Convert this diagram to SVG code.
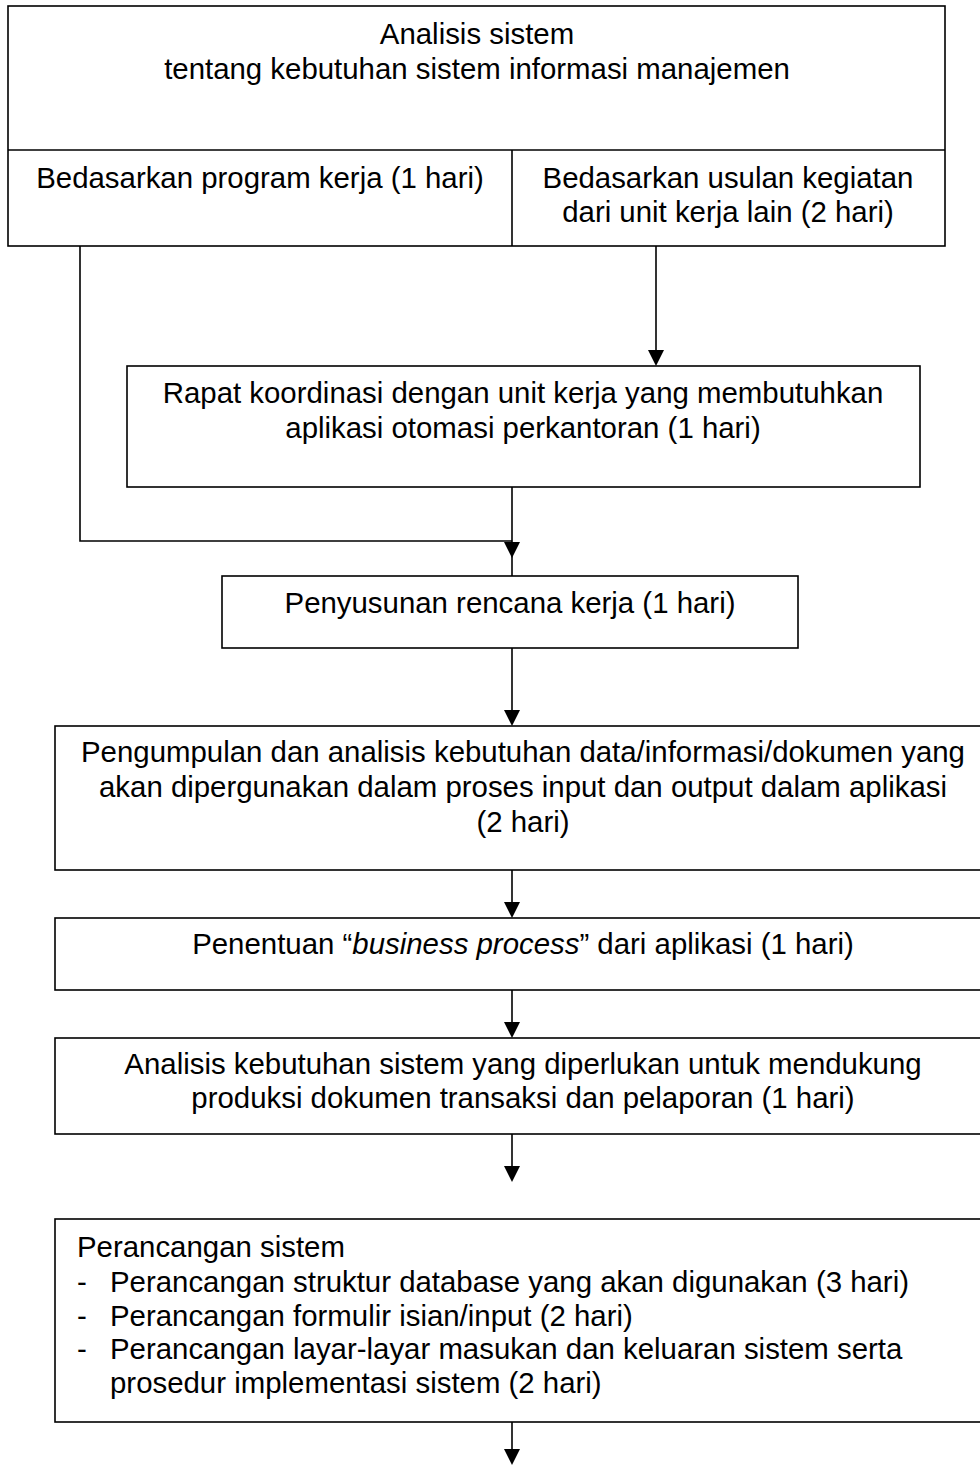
<svg xmlns="http://www.w3.org/2000/svg" width="980" height="1465" viewBox="0 0 980 1465">
<defs>
<style>
.box{fill:#fff;stroke:#000;stroke-width:1.6}
.ln{fill:none;stroke:#000;stroke-width:1.6}
.ah{fill:#000}
text{font-family:"Liberation Sans",Arial,sans-serif;font-size:29.4px;fill:#000}
.c{text-anchor:middle}
</style>
</defs>
<rect width="980" height="1465" fill="#fff"/>
<g id="node-analisis-sistem">
<rect class="box" x="8" y="6" width="937" height="240"/>
<line class="ln" x1="8" y1="150" x2="945" y2="150"/>
<line class="ln" x1="512" y1="150" x2="512" y2="246"/>
<text class="c" x="477" y="44">Analisis sistem</text>
<text class="c" x="477" y="79">tentang kebutuhan sistem informasi manajemen</text>
</g>
<g id="node-program-kerja">
<text class="c" x="260" y="188">Bedasarkan program kerja (1 hari)</text>
</g>
<g id="node-usulan-kegiatan">
<text class="c" x="728" y="188">Bedasarkan usulan kegiatan</text>
<text class="c" x="728" y="222">dari unit kerja lain (2 hari)</text>
</g>
<g id="node-rapat">
<rect class="box" x="127" y="366" width="793" height="121"/>
<text class="c" x="523" y="403">Rapat koordinasi dengan unit kerja yang membutuhkan</text>
<text class="c" x="523" y="438">aplikasi otomasi perkantoran (1 hari)</text>
</g>
<g id="node-penyusunan">
<rect class="box" x="222" y="576" width="576" height="72"/>
<text class="c" x="510" y="613">Penyusunan rencana kerja (1 hari)</text>
</g>
<g id="node-pengumpulan">
<rect class="box" x="55" y="726" width="940" height="144"/>
<text class="c" x="523" y="762">Pengumpulan dan analisis kebutuhan data/informasi/dokumen yang</text>
<text class="c" x="523" y="797">akan dipergunakan dalam proses input dan output dalam aplikasi</text>
<text class="c" x="523" y="832">(2 hari)</text>
</g>
<g id="node-penentuan">
<rect class="box" x="55" y="918" width="940" height="72"/>
<text class="c" x="523" y="954">Penentuan “<tspan font-style="italic">business process</tspan>” dari aplikasi (1 hari)</text>
</g>
<g id="node-analisis-kebutuhan">
<rect class="box" x="55" y="1038" width="940" height="96"/>
<text class="c" x="523" y="1074">Analisis kebutuhan sistem yang diperlukan untuk mendukung</text>
<text class="c" x="523" y="1108">produksi dokumen transaksi dan pelaporan (1 hari)</text>
</g>
<g id="node-perancangan">
<rect class="box" x="55" y="1219" width="940" height="203"/>
<text x="77" y="1257">Perancangan sistem</text>
<text x="77" y="1292">-</text>
<text x="110" y="1292">Perancangan struktur database yang akan digunakan (3 hari)</text>
<text x="77" y="1326">-</text>
<text x="110" y="1326">Perancangan formulir isian/input (2 hari)</text>
<text x="77" y="1359">-</text>
<text x="110" y="1359">Perancangan layar-layar masukan dan keluaran sistem serta</text>
<text x="110" y="1393">prosedur implementasi sistem (2 hari)</text>
</g>
<g id="connectors">
<path class="ln" d="M80,246 V541 H512"/>
<line class="ln" x1="656" y1="246" x2="656" y2="352"/>
<polygon class="ah" points="648,350 664,350 656,366"/>
<line class="ln" x1="512" y1="487" x2="512" y2="576"/>
<polygon class="ah" points="504,542 520,542 512,558"/>
<line class="ln" x1="512" y1="648" x2="512" y2="712"/>
<polygon class="ah" points="504,710 520,710 512,726"/>
<line class="ln" x1="512" y1="870" x2="512" y2="904"/>
<polygon class="ah" points="504,902 520,902 512,918"/>
<line class="ln" x1="512" y1="990" x2="512" y2="1024"/>
<polygon class="ah" points="504,1022 520,1022 512,1038"/>
<line class="ln" x1="512" y1="1134" x2="512" y2="1168"/>
<polygon class="ah" points="504,1166 520,1166 512,1182"/>
<line class="ln" x1="512" y1="1422" x2="512" y2="1452"/>
<polygon class="ah" points="504,1449 520,1449 512,1465"/>
</g>
</svg>
